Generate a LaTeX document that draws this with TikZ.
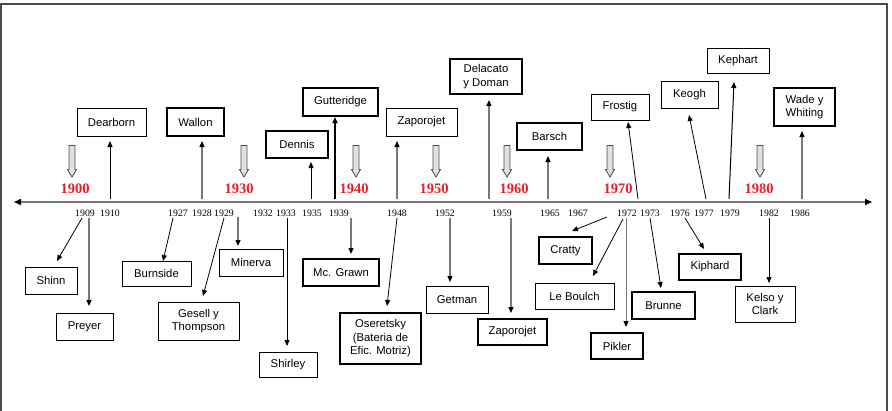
\documentclass[tikz,border=0pt]{standalone}
\usepackage{fontspec}
\setmainfont{Liberation Serif}
\setsansfont{Liberation Sans}
\usetikzlibrary{arrows.meta}
\definecolor{decred}{RGB}{232,30,40}
\definecolor{lgray}{RGB}{120,120,120}
\tikzset{
  tbox/.style={draw=black, line width=0.8pt, fill=white, align=center, inner sep=1pt,
    font=\sffamily\fontsize{11.3}{13.5}\selectfont},
  tboxk/.style={tbox, line width=1.4pt},
  yr/.style={font=\fontsize{9.8}{10}\selectfont, inner sep=0pt},
  dec/.style={font=\bfseries\fontsize{14.5}{15}\selectfont, text=decred, inner sep=0pt},
  ab/.style={draw=black, line width=0.8pt, -{Triangle[length=6pt,width=5pt]}},
  ag/.style={draw=lgray, line width=1.3pt, -{Triangle[length=6pt,width=5pt,color=black]}},
  hol/.pic={\draw[black!70, line width=0.8pt, fill=black!12] (-3,-16) -- (3,-16) -- (3,8) -- (4.5,8) -- (0,15.5) -- (-4.5,8) -- (-3,8) -- cycle;}
}
\begin{document}
\begin{tikzpicture}[x=1pt,y=-1pt]
\useasboundingbox (0,0) rectangle (892,410);
\draw[line width=1.5pt, black!70] (1,414) -- (1,4) -- (887,4) -- (887,414);
% axis
\coordinate (axL) at (14,202);
\coordinate (axR) at (872,202);
\draw[draw=lgray, line width=1.5pt, {Triangle[length=7pt,width=6pt,color=black]}-{Triangle[length=7pt,width=6pt,color=black]}] (axL) -- (axR);
% decade markers
\foreach \x/\d/\ax in {75/1900/72, 239/1930/244, 354/1940/356, 434/1950/436, 514/1960/507, 618/1970/610, 759/1980/760}{
  \node[dec] (d\d) at (\x,189) {\d};
  \pic at (\ax,161.5) {hol};
}
% year labels
\foreach \x/\yy in {85/1909, 110/1910, 178/1927, 202/1928, 224/1929, 263/1932, 286/1933, 312/1935, 339/1939, 397/1948, 445/1952, 502/1959, 550/1965, 578/1967, 627/1972, 650/1973, 680/1976, 704/1977, 730/1979, 769/1982, 800/1986}{
  \node[yr] (y\yy) at (\x,213) {\yy};
}
% upper boxes
\node[tbox, minimum width=69, minimum height=28] (dear) at (111.5,122) {Dearborn};
\node[tbox, minimum width=57, minimum height=28, line width=1.1pt] (wallon) at (195.5,122) {Wallon};
\node[tboxk, minimum width=62, minimum height=27] (dennis) at (297,144.5) {Dennis};
\node[tboxk, minimum width=75, minimum height=28] (gutter) at (340.5,102) {Gutteridge};
\node[tbox, minimum width=71, minimum height=28] (zapa) at (421.5,122) {Zaporojet};
\node[tboxk, minimum width=72, minimum height=35] (delac) at (486,76.5) {Delacato\\y Doman};
\node[tboxk, minimum width=65, minimum height=27] (barsch) at (549.5,136.5) {Barsch};
\node[tbox, minimum width=58, minimum height=26] (frostig) at (620,107) {Frostig};
\node[tbox, minimum width=57, minimum height=27] (keogh) at (689.5,94.5) {Keogh};
\node[tbox, minimum width=62, minimum height=25] (kephart) at (738,60.5) {Kephart};
\node[tboxk, minimum width=61, minimum height=38] (wade) at (804.5,107) {Wade y\\Whiting};
% lower boxes
\node[tbox, minimum width=52, minimum height=27] (shinn) at (51,280.5) {Shinn};
\node[tbox, minimum width=57, minimum height=27] (preyer) at (84.5,326.5) {Preyer};
\node[tbox, minimum width=69, minimum height=25] (burn) at (156.5,273.5) {Burnside};
\node[tbox, minimum width=81, minimum height=38] (gesell) at (198.5,321) {Gesell y\\Thompson};
\node[tbox, minimum width=64, minimum height=27] (minerva) at (251,262.5) {Minerva};
\node[tbox, minimum width=58, minimum height=25] (shirley) at (288,364.5) {Shirley};
\node[tboxk, minimum width=76, minimum height=27] (mcgrawn) at (341,272.5) {Mc. Grawn};
\node[tboxk, minimum width=81, minimum height=51] (oser) at (380.5,338.5) {Oseretsky\\(Bateria de\\Efic. Motriz)};
\node[tbox, minimum width=62, minimum height=27] (getman) at (457,299.5) {Getman};
\node[tboxk, minimum width=69, minimum height=26] (zapb) at (512.5,332) {Zaporojet};
\node[tboxk, minimum width=53, minimum height=27] (cratty) at (565.5,250.5) {Cratty};
\node[tbox, minimum width=79, minimum height=26] (boulch) at (574.5,296) {Le Boulch};
\node[tboxk, minimum width=63, minimum height=27] (brunne) at (663.5,305.5) {Brunne};
\node[tboxk, minimum width=52, minimum height=26] (pikler) at (617,346) {Pikler};
\node[tboxk, minimum width=62, minimum height=26] (kiphard) at (710,267) {Kiphard};
\node[tbox, minimum width=60, minimum height=36] (kelso) at (765,304) {Kelso y\\Clark};
% connector end points
\coordinate (u1910) at (110,199);   \coordinate (t1910) at (110,141);
\coordinate (u1928) at (202,199);   \coordinate (t1928) at (202,141);
\coordinate (u1935) at (311,199);   \coordinate (t1935) at (311,162);
\coordinate (u1939) at (335,199);   \coordinate (t1939) at (335,117);
\coordinate (u1948) at (397,199);   \coordinate (t1948) at (397,141);
\coordinate (u1959) at (489,199);   \coordinate (t1959) at (489,100);
\coordinate (u1965) at (548,199);   \coordinate (t1965) at (548,156);
\coordinate (u1972) at (638,199);   \coordinate (t1972) at (628,122);
\coordinate (u1977) at (706,199);   \coordinate (t1977) at (689,115);
\coordinate (u1979) at (729,199);   \coordinate (t1979) at (734,82);
\coordinate (u1986) at (802,199);   \coordinate (t1986) at (802,131);
\coordinate (s1) at (82,218);  \coordinate (e1) at (57,261);
\coordinate (s2) at (89,218);  \coordinate (e2) at (89,306);
\coordinate (s3) at (173,218); \coordinate (e3) at (163,261);
\coordinate (s4) at (224,218); \coordinate (e4) at (203,296);
\coordinate (s5) at (238,217); \coordinate (e5) at (238,246);
\coordinate (s6) at (287,218); \coordinate (e6) at (287,346);
\coordinate (s7) at (351,218); \coordinate (e7) at (351,254);
\coordinate (s8) at (397,218); \coordinate (e8) at (387,306);
\coordinate (s9) at (450,218); \coordinate (e9) at (450,282);
\coordinate (s10) at (511,218); \coordinate (e10) at (511,313);
\coordinate (s11) at (607,217); \coordinate (e11) at (572,231);
\coordinate (s12) at (623,219); \coordinate (e12) at (593,276);
\coordinate (s13) at (626,218); \coordinate (e13) at (626,327);
\coordinate (s14) at (650,218); \coordinate (e14) at (661,288);
\coordinate (s15) at (685,218); \coordinate (e15) at (704,249);
\coordinate (s16) at (769,218); \coordinate (e16) at (769,283);
% up connectors
\draw[ab] (u1910) -- (t1910);
\draw[ag] (u1928) -- (t1928);
\draw[ab] (u1935) -- (t1935);
\draw[ab, line width=1.8pt] (u1939) -- (t1939);
\draw[ag] (u1948) -- (t1948);
\draw[ag] (u1959) -- (t1959);
\draw[ag] (u1965) -- (t1965);
\draw[ab] (u1972) -- (t1972);
\draw[ab] (u1977) -- (t1977);
\draw[ab, line width=1pt] (u1979) -- (t1979);
\draw[ag] (u1986) -- (t1986);
% down connectors
\draw[ab] (s1) -- (e1);
\draw[ag] (s2) -- (e2);
\draw[ab] (s3) -- (e3);
\draw[ab] (s4) -- (e4);
\draw[ag] (s5) -- (e5);
\draw[ab] (s6) -- (e6);
\draw[ag] (s7) -- (e7);
\draw[ab] (s8) -- (e8);
\draw[ag] (s9) -- (e9);
\draw[ag] (s10) -- (e10);
\draw[ab] (s11) -- (e11);
\draw[ab] (s12) -- (e12);
\draw[ag, line width=1pt] (s13) -- (e13);
\draw[ab] (s14) -- (e14);
\draw[ab] (s15) -- (e15);
\draw[ab] (s16) -- (e16);
\end{tikzpicture}
\end{document}
